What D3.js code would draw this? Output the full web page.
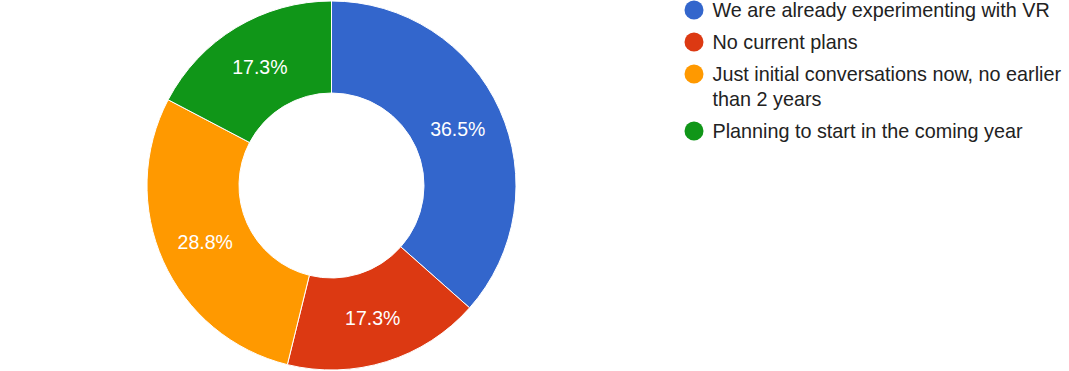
<!DOCTYPE html>
<html>
<head>
<meta charset="utf-8">
<script src="https://cdn.jsdelivr.net/npm/d3@7"></script>
<style>
  body { margin: 0; background: #fff; }
  svg { display: block; font-family: Arial, "Liberation Sans", sans-serif; }
</style>
</head>
<body>
<div id="chart"></div>
<script>
var categories = [
    "We are already experimenting with VR",
    "No current plans",
    "Just initial conversations now, no earlier than 2 years",
    "Planning to start in the coming year"
];
var responses = [19, 9, 15, 9];
var colors = ["#3366cc", "#dc3912", "#ff9900", "#109618"];

var width = 1069, height = 371;
var cx = 331.5, cy = 185.5,
    outerR = 184.5, innerR = 92.5;

var svg = d3.select("#chart")
    .append("svg")
    .attr("width", width)
    .attr("height", height);

var data = categories.map(function(c, i) { return { name: c, value: responses[i] }; });
var total = d3.sum(responses);

var color = d3.scaleOrdinal()
    .domain(categories)
    .range(colors);

var pie = d3.pie()
    .sort(null)
    .value(function(d) { return d.value; });

var arc = d3.arc()
    .innerRadius(innerR)
    .outerRadius(outerR);

var g = svg.append("g")
    .attr("transform", "translate(" + cx + "," + cy + ")");

var slices = pie(data);

g.selectAll("path")
    .data(slices)
    .enter()
    .append("path")
    .attr("d", arc)
    .attr("fill", function(d) { return color(d.data.name); })
    .attr("stroke", "#fff")
    .attr("stroke-width", 1);

// percentage labels in the middle of the ring
g.selectAll("text.pct")
    .data(slices)
    .enter()
    .append("text")
    .attr("class", "pct")
    .attr("transform", function(d) { return "translate(" + arc.centroid(d) + ")"; })
    .attr("text-anchor", "middle")
    .attr("dy", "0.36em")
    .style("font-size", "19.5px")
    .style("fill", "#fff")
    .text(function(d) { return (d.data.value / total * 100).toFixed(1) + "%"; });

// legend
var legendX = 694, textX = 712.5, maxW = 360, lineH = 25, rowGap = 32;
var legend = svg.append("g");
var y = 10;
data.forEach(function(d) {
    var row = legend.append("g");
    row.append("circle")
        .attr("cx", legendX)
        .attr("cy", y)
        .attr("r", 9.5)
        .attr("fill", color(d.name));
    var text = row.append("text")
        .attr("x", textX)
        .attr("y", y)
        .attr("dy", "0.36em")
        .style("font-size", "19.8px")
        .style("fill", "#222");
    // wrap words
    var words = d.name.split(" "), line = [], lines = 0;
    var tspan = text.append("tspan").attr("x", textX);
    words.forEach(function(w) {
        line.push(w);
        tspan.text(line.join(" "));
        if (tspan.node().getComputedTextLength() > maxW && line.length > 1) {
            line.pop();
            tspan.text(line.join(" "));
            line = [w];
            lines++;
            tspan = text.append("tspan").attr("x", textX).attr("dy", lineH).text(w);
        }
    });
    y += rowGap + lines * lineH;
});
</script>
</body>
</html>
